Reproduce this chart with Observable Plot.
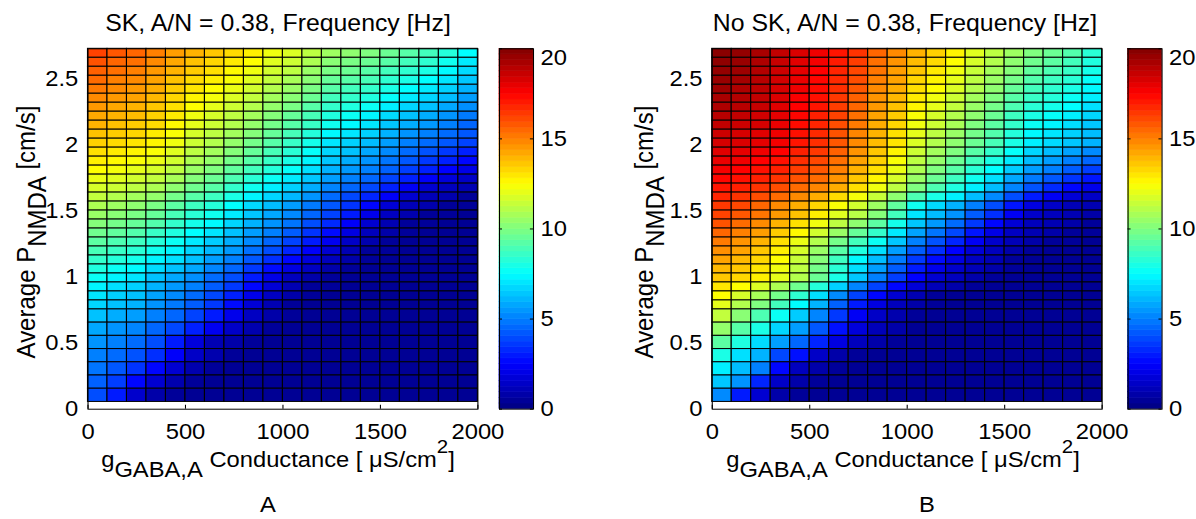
<!DOCTYPE html>
<html><head><meta charset="utf-8">
<script src="https://cdn.jsdelivr.net/npm/d3@7"></script>
<script src="https://cdn.jsdelivr.net/npm/@observablehq/plot@0.6"></script>
<style>
html,body{margin:0;padding:0;background:#fff;}
#stage{position:relative;width:1196px;height:519px;overflow:hidden;background:#fff;}
#inner{position:absolute;left:0;top:0;width:1108px;height:519px;transform:scaleX(1.08);transform-origin:0 0;}
#inner svg{position:absolute;top:0;}
</style></head><body><div id="stage"><div id="inner"></div></div>
<script>
// ---------- data ----------
const gGrid = [0,100,200,300,400,500,600,700,800,900,1000,1100,1200,1300,1400,1500,1600,1700,1800,1900,2000];
const pEdges = [0.055,0.155,0.255,0.355,0.455,0.555,0.655,0.755,0.823,0.891,0.959,1.027,1.095,1.163,1.231,1.299,1.367,1.435,1.503,1.571,1.639,1.707,1.775,1.843,1.911,1.979,2.047,2.115,2.183,2.251,2.319,2.387,2.455,2.523,2.591,2.659,2.727];
const xTicks = [0,500,1000,1500,2000];
const yTicks = [0,0.5,1,1.5,2,2.5];
const cbTicks = [0,5,10,15,20];
const jetStops = [0,2.5,7.5,12.5,17.5,20];
const jetColors = ["#000080","#0000ff","#00ffff","#ffff00","#ff0000","#800000"];
const titles = ["SK, A/N = 0.38, Frequency [Hz]", "No SK, A/N = 0.38, Frequency [Hz]"];
const panelLetters = ["A","B"];
// rows listed from top (highest P) to bottom
const freqSK = [
[16.2,15.8,15.5,15.0,14.4,14.0,13.6,13.2,12.8,12.2,11.8,11.2,10.6,10.3,10.0,9.6,9.2,8.8,8.2,7.5],
[15.9,15.5,15.3,14.8,14.2,13.7,13.3,12.9,12.5,11.9,11.5,10.9,10.2,9.9,9.6,9.2,8.8,8.4,7.8,7.1],
[15.6,15.3,15.0,14.5,14.0,13.5,13.1,12.6,12.2,11.6,11.2,10.5,9.9,9.6,9.2,8.8,8.4,8.0,7.4,6.8],
[15.4,15.0,14.8,14.3,13.7,13.2,12.8,12.4,11.9,11.3,10.8,10.2,9.5,9.2,8.9,8.4,8.0,7.5,7.0,6.4],
[15.1,14.8,14.5,14.1,13.5,13.0,12.5,12.1,11.6,11.0,10.5,9.9,9.2,8.8,8.5,8.0,7.5,7.1,6.6,6.0],
[14.8,14.5,14.3,13.9,13.3,12.7,12.3,11.8,11.3,10.7,10.2,9.6,8.8,8.5,8.1,7.6,7.1,6.7,6.2,5.6],
[14.5,14.2,14.0,13.6,13.1,12.5,12.0,11.5,11.0,10.4,9.9,9.2,8.5,8.1,7.7,7.2,6.7,6.3,5.8,5.3],
[14.2,14.0,13.8,13.4,12.9,12.2,11.7,11.2,10.7,10.1,9.5,8.9,8.1,7.7,7.3,6.8,6.3,5.9,5.4,4.9],
[14.0,13.7,13.5,13.2,12.6,12.0,11.5,11.0,10.4,9.8,9.2,8.6,7.8,7.4,7.0,6.4,5.9,5.5,5.0,4.5],
[13.7,13.5,13.3,12.9,12.4,11.7,11.2,10.7,10.1,9.5,8.9,8.2,7.4,7.0,6.6,6.0,5.4,5.0,4.6,4.2],
[13.4,13.2,13.0,12.7,12.2,11.5,11.0,10.4,9.8,9.2,8.6,7.9,7.0,6.6,6.2,5.6,5.0,4.6,4.2,3.8],
[13.1,12.9,12.7,12.4,11.9,11.2,10.7,10.1,9.5,8.9,8.3,7.6,6.7,6.3,5.8,5.2,4.6,4.1,3.6,3.1],
[12.8,12.6,12.4,12.1,11.6,10.9,10.4,9.8,9.2,8.6,8.0,7.3,6.4,5.9,5.4,4.8,4.2,3.6,3.1,2.6],
[12.5,12.3,12.0,11.7,11.2,10.5,10.0,9.4,8.8,8.2,7.6,6.9,6.0,5.5,5.0,4.4,3.7,3.1,2.5,2.0],
[12.1,11.9,11.6,11.3,10.8,10.1,9.6,9.0,8.3,7.7,7.1,6.4,5.6,5.0,4.5,3.8,3.1,2.4,1.8,1.4],
[11.7,11.5,11.2,10.9,10.3,9.7,9.2,8.5,7.8,7.2,6.6,5.9,5.1,4.5,3.9,3.1,2.3,1.6,1.2,1.0],
[11.3,11.0,10.7,10.4,9.8,9.2,8.7,8.0,7.3,6.7,6.1,5.4,4.6,3.9,3.2,2.4,1.6,1.1,0.9,0.5],
[10.9,10.6,10.3,9.9,9.3,8.7,8.2,7.5,6.8,6.2,5.6,4.9,4.2,3.5,2.6,1.7,1.1,0.9,0.5,0.5],
[10.5,10.2,9.9,9.5,8.9,8.3,7.8,7.1,6.4,5.8,5.2,4.5,3.8,3.0,2.1,1.3,0.9,0.5,0.5,0.4],
[10.1,9.8,9.5,9.1,8.5,7.9,7.4,6.7,6.0,5.4,4.8,4.0,3.3,2.4,1.6,1.0,0.5,0.5,0.4,0.4],
[9.7,9.4,9.1,8.6,8.1,7.5,7.0,6.3,5.6,5.0,4.3,3.5,2.7,1.9,1.2,0.8,0.5,0.4,0.4,0.4],
[9.3,9.0,8.7,8.2,7.7,7.1,6.5,5.9,5.2,4.5,3.8,3.0,2.2,1.4,0.9,0.5,0.4,0.4,0.4,0.4],
[8.9,8.6,8.3,7.8,7.3,6.7,6.1,5.5,4.7,4.0,3.2,2.4,1.6,1.0,0.5,0.5,0.4,0.4,0.4,0.4],
[8.5,8.2,7.9,7.3,6.9,6.3,5.6,5.0,4.2,3.4,2.6,1.8,1.2,0.8,0.5,0.4,0.4,0.4,0.4,0.4],
[8.1,7.7,7.4,6.8,6.3,5.8,5.1,4.5,3.6,2.7,1.9,1.3,0.8,0.5,0.4,0.4,0.4,0.4,0.4,0.4],
[7.7,7.3,7.0,6.3,5.8,5.3,4.6,4.0,3.0,2.0,1.2,0.8,0.5,0.4,0.4,0.4,0.4,0.4,0.4,0.4],
[7.3,6.9,6.6,6.0,5.5,5.0,4.3,3.6,2.6,1.7,1.0,0.5,0.5,0.4,0.4,0.4,0.4,0.4,0.4,0.4],
[7.0,6.6,6.3,5.7,5.2,4.6,3.9,3.1,2.1,1.3,0.8,0.5,0.4,0.4,0.4,0.4,0.4,0.4,0.4,0.4],
[6.7,6.3,6.0,5.4,4.9,4.3,3.6,2.7,1.7,1.0,0.5,0.4,0.4,0.4,0.4,0.4,0.4,0.4,0.4,0.4],
[6.3,5.9,5.6,5.0,4.5,3.8,3.0,2.1,1.3,0.8,0.5,0.4,0.4,0.4,0.4,0.4,0.4,0.4,0.4,0.4],
[5.8,5.4,5.1,4.5,3.9,3.1,2.2,1.4,0.9,0.5,0.4,0.4,0.4,0.4,0.4,0.4,0.4,0.4,0.4,0.4],
[5.4,5.0,4.6,4.0,3.0,1.8,1.0,0.8,0.5,0.4,0.4,0.4,0.4,0.4,0.4,0.4,0.4,0.4,0.4,0.4],
[5.0,4.6,4.1,3.4,2.4,1.4,0.9,0.5,0.4,0.4,0.4,0.4,0.4,0.4,0.4,0.4,0.4,0.4,0.4,0.4],
[4.8,4.2,3.5,2.6,1.6,0.9,0.5,0.4,0.4,0.4,0.4,0.4,0.4,0.4,0.4,0.4,0.4,0.4,0.4,0.4],
[4.4,3.7,2.6,1.6,0.9,0.5,0.4,0.4,0.4,0.4,0.4,0.4,0.4,0.4,0.4,0.4,0.4,0.4,0.4,0.4],
[4.0,3.0,1.5,0.8,0.5,0.4,0.4,0.4,0.4,0.4,0.4,0.4,0.4,0.4,0.4,0.4,0.4,0.4,0.4,0.4]
];
const freqNoSK = [
[19.8,19.6,19.2,18.7,18.2,17.8,17.1,16.5,15.5,14.8,14.0,13.4,12.7,11.9,11.2,10.6,10.0,9.6,9.1,8.3],
[19.7,19.5,19.1,18.6,18.1,17.7,17.0,16.3,15.3,14.6,13.8,13.2,12.5,11.7,11.0,10.3,9.7,9.3,8.8,8.1],
[19.6,19.4,19.0,18.5,18.0,17.5,16.8,16.1,15.2,14.4,13.6,12.9,12.2,11.4,10.7,10.1,9.4,9.0,8.6,7.9],
[19.5,19.3,18.9,18.4,17.9,17.4,16.7,16.0,15.0,14.3,13.3,12.7,12.0,11.2,10.5,9.8,9.1,8.7,8.3,7.6],
[19.4,19.1,18.8,18.3,17.8,17.3,16.6,15.8,14.8,14.1,13.1,12.5,11.8,11.0,10.3,9.5,8.8,8.4,8.0,7.4],
[19.2,19.0,18.7,18.2,17.6,17.2,16.4,15.6,14.6,13.9,12.9,12.2,11.5,10.7,10.0,9.2,8.6,8.2,7.7,7.2],
[19.1,18.9,18.6,18.1,17.5,17.1,16.3,15.5,14.5,13.7,12.7,12.0,11.3,10.5,9.8,9.0,8.3,7.9,7.5,6.9],
[18.9,18.7,18.4,18.0,17.4,16.9,16.2,15.3,14.3,13.5,12.4,11.7,11.0,10.3,9.6,8.7,8.0,7.6,7.2,6.7],
[18.7,18.5,18.3,17.9,17.3,16.8,16.0,15.1,14.1,13.3,12.2,11.5,10.8,10.0,9.3,8.5,7.7,7.3,6.9,6.4],
[18.5,18.3,18.1,17.8,17.2,16.7,15.9,14.9,14.0,13.1,12.0,11.2,10.5,9.8,9.1,8.2,7.4,7.0,6.6,6.2],
[18.3,18.2,18.0,17.7,17.1,16.6,15.8,14.8,13.8,13.0,11.8,11.0,10.3,9.6,8.9,8.0,7.2,6.8,6.4,6.0],
[18.1,18.0,17.8,17.5,16.9,16.4,15.6,14.6,13.6,12.7,11.5,10.7,10.0,9.2,8.5,7.6,6.7,6.2,5.7,5.2],
[17.9,17.8,17.5,17.2,16.6,16.1,15.3,14.3,13.4,12.4,11.2,10.4,9.6,8.8,8.0,7.1,6.2,5.6,5.0,4.5],
[17.7,17.5,17.2,16.9,16.3,15.8,15.0,14.0,13.1,12.1,10.9,10.0,9.2,8.3,7.5,6.5,5.6,5.0,4.3,3.7],
[17.4,17.2,16.9,16.5,15.9,15.4,14.6,13.6,12.7,11.7,10.5,9.6,8.7,7.8,6.9,5.8,4.9,4.2,3.5,2.9],
[17.1,16.9,16.5,16.0,15.4,14.9,14.1,13.1,12.2,11.2,10.0,9.0,8.1,7.2,6.2,5.1,4.1,3.3,2.6,2.1],
[16.8,16.5,16.0,15.4,14.8,14.1,13.2,12.3,11.4,10.3,9.0,8.0,7.2,6.2,5.2,4.0,3.0,2.3,1.7,1.4],
[16.4,16.1,15.5,14.8,14.1,13.3,12.4,11.6,10.6,9.4,7.8,6.8,6.0,5.0,4.0,2.9,1.9,1.4,1.1,1.0],
[16.2,15.8,15.2,14.5,13.7,12.8,11.9,11.1,10.1,8.8,7.0,6.2,5.4,4.3,3.4,2.3,1.5,1.2,1.0,0.8],
[15.9,15.4,14.8,14.0,13.1,12.2,11.2,10.3,9.3,7.9,6.4,5.5,4.6,3.6,2.6,1.7,1.2,1.0,0.8,0.5],
[15.5,15.0,14.4,13.5,12.6,11.6,10.5,9.5,8.5,7.1,5.7,4.8,3.9,2.9,2.0,1.3,1.0,0.8,0.5,0.5],
[15.1,14.6,14.0,13.1,12.1,11.0,9.8,8.8,7.7,6.4,5.0,4.1,3.2,2.3,1.5,1.1,0.8,0.5,0.5,0.4],
[14.7,14.3,13.6,12.8,11.7,10.5,9.2,8.1,6.9,5.6,4.3,3.4,2.5,1.7,1.2,0.8,0.5,0.4,0.4,0.4],
[14.3,13.9,13.3,12.5,11.4,10.1,8.7,7.4,6.2,4.9,3.6,2.7,1.9,1.3,1.0,0.5,0.4,0.4,0.4,0.4],
[13.9,13.6,13.0,12.2,11.2,9.8,8.3,6.9,5.6,4.3,3.0,2.1,1.5,1.1,0.8,0.5,0.4,0.4,0.4,0.4],
[13.6,13.3,12.8,12.0,11.0,9.6,8.0,6.4,5.0,3.7,2.5,1.6,1.2,0.8,0.5,0.4,0.4,0.4,0.4,0.4],
[13.0,12.5,11.8,10.9,9.7,8.2,6.6,5.1,3.8,2.6,1.7,1.1,0.8,0.5,0.4,0.4,0.4,0.4,0.4,0.4],
[12.5,11.7,10.8,9.8,8.4,6.9,5.2,3.8,2.6,1.6,1.0,0.5,0.4,0.4,0.4,0.4,0.4,0.4,0.4,0.4],
[12.0,11.0,10.0,8.8,7.5,6.0,4.4,3.0,1.9,1.2,0.8,0.5,0.4,0.4,0.4,0.4,0.4,0.4,0.4,0.4],
[11.3,10.2,9.0,7.7,6.5,5.1,3.6,2.3,1.4,0.9,0.5,0.4,0.4,0.4,0.4,0.4,0.4,0.4,0.4,0.4],
[10.4,9.2,8.0,6.7,5.6,4.2,2.8,1.8,1.1,0.8,0.4,0.4,0.4,0.4,0.4,0.4,0.4,0.4,0.4,0.4],
[9.3,8.1,6.8,5.6,4.5,3.2,1.9,1.2,0.8,0.5,0.4,0.4,0.4,0.4,0.4,0.4,0.4,0.4,0.4,0.4],
[8.0,6.9,6.0,3.9,2.8,1.4,0.8,0.5,0.4,0.4,0.4,0.4,0.4,0.4,0.4,0.4,0.4,0.4,0.4,0.4],
[7.2,6.2,5.0,2.6,1.2,0.8,0.5,0.4,0.4,0.4,0.4,0.4,0.4,0.4,0.4,0.4,0.4,0.4,0.4,0.4],
[6.4,5.4,3.2,1.4,0.8,0.5,0.4,0.4,0.4,0.4,0.4,0.4,0.4,0.4,0.4,0.4,0.4,0.4,0.4,0.4],
[5.2,3.0,1.6,0.8,0.5,0.4,0.4,0.4,0.4,0.4,0.4,0.4,0.4,0.4,0.4,0.4,0.4,0.4,0.4,0.4]
];

// ---------- layout ----------
const S = 1.08;                 // horizontal stretch of the original figure
const U = v => v / S;           // real px -> unstretched px
const FONT = '"Liberation Sans", Arial, Helvetica, sans-serif';
const TOP = 48.3, ZERO = 408.7, H = 519;
const PW = 361;                 // plot width (unstretched)
const colorOpts = {type: "linear", domain: jetStops, range: jetColors, interpolate: "rgb", clamp: true};
const baseStyle = {fontFamily: FONT, fontSize: "22px", color: "black", background: "transparent", overflow: "visible"};

const panels = [
  {values: freqSK, left: U(87), cb: U(499), titleX: U(278), xlabX: U(278), letterX: U(268), ylabX: U(34.5)},
  {values: freqNoSK, left: U(712), cb: U(1127), titleX: U(905), xlabX: U(903), letterX: U(927), ylabX: U(652.5)}
];

const inner = document.getElementById("inner");
const nRows = pEdges.length - 1;

panels.forEach((p, pi) => {
  const cells = [];
  p.values.forEach((row, ri) => {
    const k = nRows - 1 - ri;
    row.forEach((v, ci) => cells.push({x1: gGrid[ci], x2: gGrid[ci + 1], y1: pEdges[k], y2: pEdges[k + 1], v}));
  });
  const ML = 80, MR = 12;
  const heat = Plot.plot({
    width: ML + PW + MR, height: H,
    marginLeft: ML, marginRight: MR, marginTop: TOP, marginBottom: H - ZERO,
    style: baseStyle,
    x: {domain: [0, 2000]},
    y: {domain: [0, pEdges[nRows]]},
    color: colorOpts,
    marks: [
      Plot.rect(cells, {x1: "x1", x2: "x2", y1: "y1", y2: "y2", fill: "v", stroke: "black", strokeWidth: 1}),
      Plot.ruleX(xTicks, {y1: 0, y2: 0.03, stroke: "black"}),
      Plot.frame({stroke: "black"}),
      Plot.axisX({ticks: xTicks, tickSize: 0, tickPadding: 14, label: null, tickFormat: d => String(d)}),
      Plot.axisY({ticks: yTicks, tickSize: 0, tickPadding: 9, label: null, tickFormat: d => String(d)})
    ]
  });
  heat.style.left = (p.left - ML) + "px";
  inner.appendChild(heat);

  const bands = d3.range(64).map(i => ({y1: i * 20 / 64, y2: (i + 1) * 20 / 64, v: (i + 0.5) * 20 / 64}));
  const cbW = U(34), CMR = 45;
  const lowTicks = cbTicks.filter(d => d < 20), topTicks = cbTicks.filter(d => d >= 20);
  const cb = Plot.plot({
    width: cbW + CMR, height: H,
    marginLeft: 0, marginRight: CMR, marginTop: TOP, marginBottom: H - ZERO,
    style: baseStyle,
    x: {domain: [0, 1], axis: null},
    y: {domain: [0, 20], axis: null},
    color: colorOpts,
    marks: [
      Plot.rect(bands, {x1: 0, x2: 1, y1: "y1", y2: "y2", fill: "v", stroke: "v", strokeWidth: 0.6}),
      Plot.ruleY(cbTicks, {x1: 0, x2: 0.09, stroke: "black"}),
      Plot.ruleY(cbTicks, {x1: 0.91, x2: 1, stroke: "black"}),
      Plot.frame({stroke: "black"}),
      Plot.text(lowTicks, {x: 1, y: d => d, text: d => String(d), textAnchor: "start", dx: 6.5, fill: "black"}),
      Plot.text(topTicks, {x: 1, y: d => d, text: d => String(d), textAnchor: "start", dx: 6.5, dy: 9, fill: "black"})
    ]
  });
  cb.style.left = p.cb + "px";
  inner.appendChild(cb);
});

// ---------- text overlay ----------
const ns = "http://www.w3.org/2000/svg";
const ov = document.createElementNS(ns, "svg");
ov.setAttribute("width", 1108); ov.setAttribute("height", H);
ov.style.left = "0px";
ov.setAttribute("font-family", FONT);
let html = "";
panels.forEach((p, pi) => {
  html += `<text x="${p.titleX}" y="31.5" font-size="23" text-anchor="middle" style="white-space:pre">${titles[pi]}</text>`;
  html += `<text x="${p.xlabX}" y="466.7" font-size="22" text-anchor="middle" style="white-space:pre">g<tspan dy="10">GABA,A</tspan><tspan dy="-10"> Conductance [ \u03BCS/cm</tspan><tspan dy="-13.4" font-size="19">2</tspan><tspan dy="13.4">]</tspan></text>`;
  html += `<text x="${p.letterX}" y="511.7" font-size="22" text-anchor="middle">${panelLetters[pi]}</text>`;
  html += `<text transform="translate(${p.ylabX},232) rotate(-90)" font-size="24" text-anchor="middle" style="white-space:pre">Average P<tspan dy="11">NMDA</tspan><tspan dy="-11"> [cm/s]</tspan></text>`;
});
ov.innerHTML = html;
inner.appendChild(ov);
</script>
</body></html>
